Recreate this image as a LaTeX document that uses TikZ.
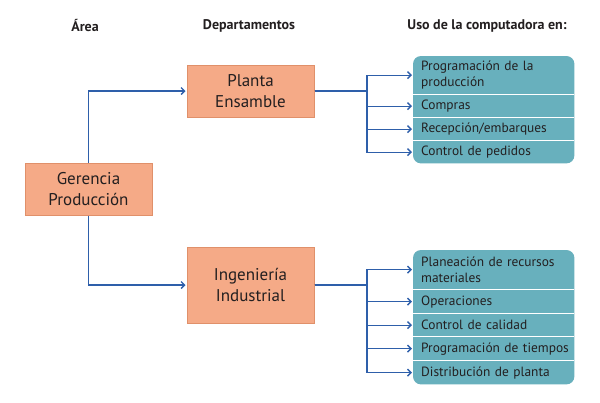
\documentclass[tikz,border=0pt]{standalone}
\usepackage{fontspec}
\setmainfont{PT Sans}
\usepackage{tikz}
\usetikzlibrary{arrows.meta,backgrounds}
\definecolor{naranja}{HTML}{F5AA87}
\definecolor{naranjaborde}{HTML}{E0906A}
\definecolor{turquesa}{HTML}{68B0BD}
\definecolor{azul}{HTML}{2E5FAA}
\definecolor{texto}{HTML}{231F20}

\begin{document}
\begin{tikzpicture}[x=1pt,y=-1pt,
  encabezado/.style={font=\fontsize{14}{16}\selectfont\bfseries, text=texto},
  caja/.style={draw=naranjaborde, fill=naranja, line width=1pt, minimum width=127pt,
    align=center, font=\fontsize{17}{21}\selectfont, text=texto, inner sep=0pt},
  fila/.style={anchor=north west, minimum width=161pt, text width=145pt, inner xsep=8pt,
    inner ysep=0pt, align=left, font=\fontsize{13.4}{16}\selectfont, text=texto},
  flecha/.style={draw=azul, line width=1.2pt, shorten >=1pt, -{Straight Barb[length=3.5pt,width=7pt,line width=1.4pt]}},
  linea/.style={draw=azul, line width=1.2pt}]
   \useasboundingbox (0,0) rectangle (600,402);
   % encabezados
   \node[encabezado] (hArea) at (85,26) {Área};
   \node[encabezado] (hDep) at (249,26) {Departamentos};
   \node[encabezado] (hUso) at (487,26) {Uso de la computadora en:};
   % cajas
   \node[caja, minimum height=52pt] (ger) at (88.5,189) {Gerencia\\Producción};
   \node[caja, minimum height=52pt] (planta) at (250.5,91) {Planta\\Ensamble};
   \node[caja, minimum height=76pt] (ing) at (250.5,285) {Ingeniería\\Industrial};
   % usos, planta
   \node[fila, minimum height=38pt] (p1) at (413,56) {Programación de la\\producción};
   \node[fila, minimum height=22pt] (p2) at (413,95) {Compras};
   \node[fila, minimum height=22pt] (p3) at (413,118) {Recepción/embarques};
   \node[fila, minimum height=22pt] (p4) at (413,141) {Control de pedidos};
   % usos, ingenieria
   \node[fila, minimum height=39pt] (q1) at (413,250) {Planeación de recursos\\materiales};
   \node[fila, minimum height=23pt] (q2) at (413,290) {Operaciones};
   \node[fila, minimum height=22pt] (q3) at (413,314) {Control de calidad};
   \node[fila, minimum height=23pt] (q4) at (413,337) {\mbox{Programación de tiempos}};
   \node[fila, minimum height=23pt] (q5) at (413,361) {Distribución de planta};
   \begin{scope}[on background layer]
     \fill[white] (0,0) rectangle (600,402);
     \fill[turquesa, rounded corners=8pt] (p1.north west) rectangle (p4.south east);
     \fill[turquesa, rounded corners=8pt] (q1.north west) rectangle (q5.south east);
   \end{scope}
   \foreach \i in {1,2,3} \draw[white, line width=1pt] (p\i.south west) -- (p\i.south east);
   \foreach \i in {1,2,3,4} \draw[white, line width=1pt] (q\i.south west) -- (q\i.south east);
   % conectores
   \coordinate (bp) at (367,91);
   \coordinate (bi) at (367,285);
   \draw[flecha] (ger.north) |- (planta.west);
   \draw[flecha] (ger.south) |- (ing.west);
   \foreach \i in {1,2,3,4} \draw[flecha] (planta.east) -| (bp) |- (p\i.west);
   \foreach \i in {1,2,3,4,5} \draw[flecha] (ing.east) -| (bi) |- (q\i.west);
\end{tikzpicture}
\end{document}
